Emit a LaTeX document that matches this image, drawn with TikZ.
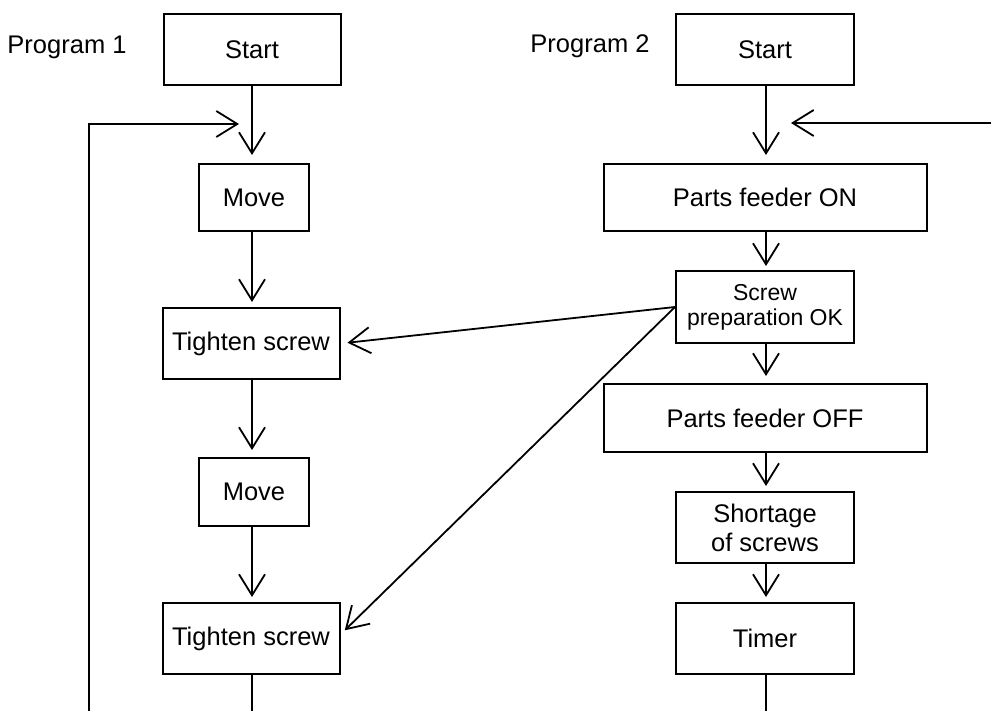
\documentclass[tikz,border=0pt]{standalone}
\usepackage{fontspec}
\setmainfont{Liberation Sans}
\usetikzlibrary{arrows.meta}
\begin{document}
\begin{tikzpicture}[x=1pt,y=-1pt,
  box/.style={draw=black,line width=2pt,inner sep=0pt,align=center,
    font=\fontsize{25.5}{29}\selectfont},
  small/.style={font=\fontsize{23}{25}\selectfont},
  lbl/.style={inner sep=0pt,font=\fontsize{25.5}{29}\selectfont},
  conn/.style={line width=1.8pt,-{Straight Barb[length=21pt,width=26pt]}},
  plain/.style={line width=1.8pt}]
\clip (0,0) rectangle (991,711);
\fill[white] (0,0) rectangle (991,711);
% left column
\node[lbl] (p1) at (67,47) {Program 1};
\node[box,minimum width=177pt,minimum height=71pt] (s1) at (252,49.5) {Start};
\node[box,minimum width=110pt,minimum height=67pt] (m1) at (254,197.5) {Move};
\node[box,minimum width=177pt,minimum height=71pt] (t1) at (251,343.5) {Tighten screw};
\node[box,minimum width=110pt,minimum height=68pt] (m2) at (254,492) {Move};
\node[box,minimum width=177pt,minimum height=71pt] (t2) at (251,638.5) {Tighten screw};
% right column
\node[lbl] (p2) at (590,46) {Program 2};
\node[box,minimum width=178pt,minimum height=71pt] (s2) at (765,49.5) {Start};
\node[box,minimum width=323pt,minimum height=67pt] (on) at (765,197.5) {Parts feeder ON};
\node[box,small,minimum width=178pt,minimum height=72pt] (sp) at (765,307) {Screw\\preparation OK};
\node[box,minimum width=323pt,minimum height=68pt] (off) at (765,418) {Parts feeder OFF};
\node[box,minimum width=178pt,minimum height=71pt] (sh) at (765,527.5) {Shortage\\of screws};
\node[box,minimum width=178pt,minimum height=71pt] (tm) at (765,638.5) {Timer};
% coordinates for loops
\coordinate (lb1) at (252,715);
\coordinate (lb2) at (89,715);
\coordinate (la) at (239,124);
\coordinate (rb1) at (766,715);
\coordinate (rb2) at (996,715);
\coordinate (ra) at (791,123);
% left connectors
\draw[conn,shorten >=8pt] (s1.south -| 252,0) -- (m1.north -| 252,0);
\draw[conn,shorten >=5pt] (m1.south -| 252,0) -- (t1.north -| 252,0);
\draw[conn,shorten >=7pt] (t1.south -| 252,0) -- (m2.north -| 252,0);
\draw[conn,shorten >=5pt] (m2.south -| 252,0) -- (t2.north -| 252,0);
\draw[conn] (t2.south -| 252,0) -- (lb1) -- (lb2) |- (la);
% right connectors
\draw[conn,shorten >=8pt] (s2.south -| 766,0) -- (on.north -| 766,0);
\draw[conn,shorten >=4pt] (on.south -| 766,0) -- (sp.north -| 766,0);
\draw[conn,shorten >=7pt] (sp.south -| 766,0) -- (off.north -| 766,0);
\draw[conn,shorten >=5pt] (off.south -| 766,0) -- (sh.north -| 766,0);
\draw[conn,shorten >=5pt] (sh.south -| 766,0) -- (tm.north -| 766,0);
\draw[conn] (tm.south -| 766,0) -- (rb1) -- (rb2) |- (ra);
% diagonals
\draw[conn,shorten >=7pt] (sp.west) -- (t1.east);
\draw[conn,shorten >=6pt] (sp.west) -- ([yshift=4pt]t2.east);
\end{tikzpicture}
\end{document}
